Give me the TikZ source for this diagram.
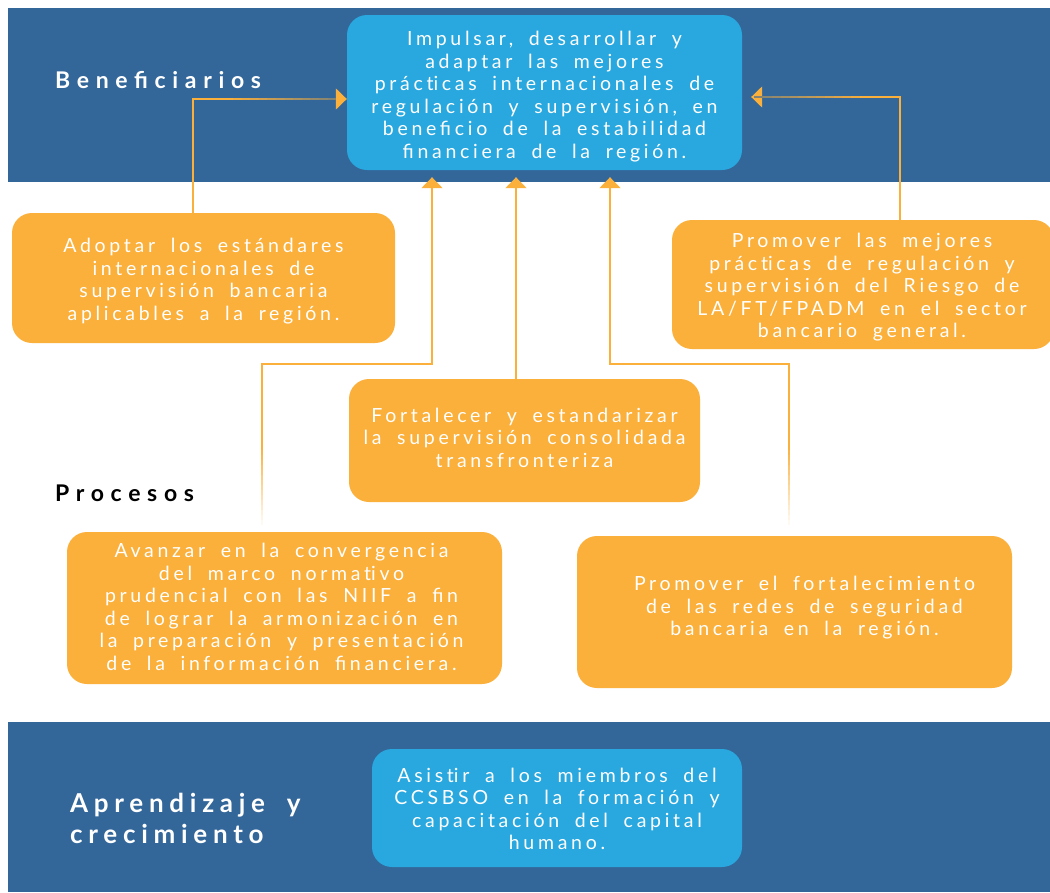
\documentclass[tikz,border=0pt]{standalone}
\usepackage{fontspec}
\setmainfont{Lato}
\newfontfamily\bodyfont{Lato}[LetterSpace=19,WordSpace=1.8]
\newfontfamily\labelfont{Lato}[LetterSpace=29,WordSpace=1.0]
\newfontfamily\labelfontb{Lato}[LetterSpace=22,WordSpace=1.8]
\newcommand\nolig{\kern0pt }
\usetikzlibrary{arrows.meta,calc}
\definecolor{band}{HTML}{336699}
\definecolor{lblue}{HTML}{29A8E0}
\definecolor{orng}{HTML}{FBB03B}
\tikzset{
  box/.style={rounded corners=20pt, inner sep=0pt},
  bluebox/.style={box, fill=lblue},
  orbox/.style={box, fill=orng},
  boxtext/.style={align=center, text=white, inner sep=0pt,
    font={\bodyfont\fontsize{19.5}{22.5}\selectfont}},
  lbl/.style={anchor=west, align=left, inner sep=0pt,
    font={\labelfont\bfseries\fontsize{23}{28}\selectfont}},
  lblb/.style={anchor=west, align=left, inner sep=0pt,
    font={\labelfontb\bfseries\fontsize{26}{31}\selectfont}},
  conn/.style={draw=orng, line width=1.5pt},
  tip/.style={-{Triangle[width=21pt,length=11pt]}},
}
\begin{document}
\begin{tikzpicture}[x=1pt,y=-1pt]
\useasboundingbox (0,0) rectangle (1050,892);
\fill[white] (0,0) rectangle (1050,892);
% bands
\fill[band] (8,8) rectangle (1050,182);
\fill[band] (8,722) rectangle (1050,892);

% nodes
\node[bluebox, minimum width=395pt, minimum height=155pt,
  label={[boxtext, yshift=-4pt]center:{Impulsar, desarrollar y\\adaptar las mejores\\práct\nolig icas internacionales de\\regulación y supervisión, en\\beneficio de la estabilidad\\financiera de la región.}}] (main) at (544.5,92.5) {};
\node[orbox, minimum width=383pt, minimum height=130pt,
  label={[boxtext, yshift=-3pt]center:{Adoptar los estándares\\internacionales de\\supervisión bancaria\\aplicables a la región.}}] (lbox) at (203.5,278) {};
\node[orbox, minimum width=382pt, minimum height=129pt,
  label={[boxtext, yshift=-3pt, xshift=-1pt]center:{Promover las mejores\\práct\nolig icas de regulación y\\supervisión del Riesgo de\\LA/FT/FPADM en el sector\\bancario general.}}] (rbox) at (863,284.5) {};
\node[orbox, minimum width=351pt, minimum height=123pt,
  label={[boxtext, yshift=3pt]center:{Fortalecer y estandarizar\\la supervisión consolidada\\transfronteriza}}] (mbox) at (524.5,440.5) {};
\node[orbox, minimum width=435pt, minimum height=152pt,
  label={[boxtext, yshift=1pt, xshift=-3pt]center:{Avanzar en la convergencia\\del marco normat\nolig ivo\\prudencial con las NIIF a fin\\de lograr la armonización en\\la preparación y presentación\\de la información financiera.}}] (blbox) at (284.5,608) {};
\node[orbox, minimum width=435pt, minimum height=152pt,
  label={[boxtext, yshift=4pt, xshift=10pt]center:{Promover el fortalecimiento\\de las redes de seguridad\\bancaria en la región.}}] (brbox) at (794.5,612) {};
\node[bluebox, minimum width=370pt, minimum height=118pt,
  label={[boxtext, yshift=-1pt]center:{Asist\nolig ir a los miembros del\\CCSBSO en la formación y\\capacitación del capital\\humano.}}] (bbox) at (557,808) {};

% labels
\node[lbl, text=white] (lben) at (55,80) {Beneficiarios};
\node[lbl, text=black] (lpro) at (55,493) {Procesos};
\node[lblb, text=white] (lapr) at (70,818) {Aprendizaje y\\crecimiento};

% coordinates
\coordinate (lturn) at (193,99);
\coordinate (rturn) at (900,97);
\coordinate (jl) at (432,364);
\coordinate (jr) at (610,364);
\coordinate (mx) at (516,300);
\coordinate (lfade) at (262,450);
\coordinate (rfade) at (789,450);

% connectors
\draw[conn, tip] (lbox.north -| lturn) -- (lturn) -- (main.west |- lturn);
\draw[conn, tip, shorten >=9pt] (rbox.north -| rturn) -- (rturn) -- (main.east |- rturn);
\draw[conn, tip, shorten >=7pt] (mbox.north -| mx) -- (main.south -| mx);
\draw[conn, tip, shorten >=7pt] (lfade) |- (jl) -- (main.south -| jl);
\draw[conn, tip, shorten >=7pt] (rfade) |- (jr) -- (main.south -| jr);
% fading of the free ends
\foreach \i in {0,...,14}{
  \draw[conn, opacity={1-(\i+1)/16}] ($(lfade)+(0,\i*5)$) -- ($(lfade)+(0,\i*5+5)$);
  \draw[conn, opacity={1-(\i+1)/16}] ($(rfade)+(0,\i*5)$) -- ($(rfade)+(0,\i*5+5)$);
}
% fading of the horizontal runs into the blue band
\foreach \i in {0,...,11}{
  \draw[band, line width=2pt, opacity={0.6*(\i+1)/12}] ($(lturn)+(40+\i*8.6,0)$) -- ($(lturn)+(48.6+\i*8.6,0)$);
  \draw[band, line width=2pt, opacity={0.6*(\i+1)/12}] ($(rturn)+(-40-\i*8.8,0)$) -- ($(rturn)+(-48.8-\i*8.8,0)$);
}
\end{tikzpicture}
\end{document}
